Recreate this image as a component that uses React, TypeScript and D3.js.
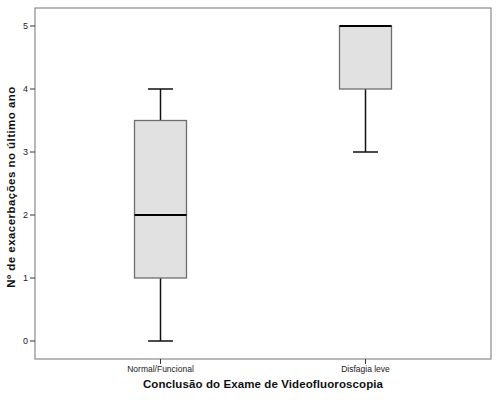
import React from "react";
import * as d3 from "d3";

const categories = ["Normal/Funcional", "Disfagia leve"];
const mins = [0, 3];
const q1s = [1, 4];
const medians = [2, 5];
const q3s = [3.5, 5];
const maxs = [4, 5];
const yTicks = [0, 1, 2, 3, 4, 5];

export default function App() {
  const W = 500, H = 400;
  const L = 35, R = 491, T = 8, B = 359;
  const y = d3.scaleLinear().domain([0, 5]).range([341, 26]);
  const x = d3.scalePoint<string>().domain(categories).range([160.5, 365.5]);
  const boxW = 52;
  const capW = 25;
  return (
    <svg width={W} height={H} style={{ position: "absolute", left: 0, top: 0, background: "#fff" }}>
      <rect x={L} y={T} width={R - L} height={B - T} fill="none" stroke="#8a8a8a" strokeWidth={1.2} />
      {yTicks.map((t) => (
        <g key={t}>
          <line x1={L - 5} x2={L} y1={y(t)} y2={y(t)} stroke="#333" strokeWidth={1} />
          <text x={L - 7} y={y(t) + 3} fontSize={9} fontFamily="Arial, Liberation Sans, sans-serif" textAnchor="end" fill="#222">{t}</text>
        </g>
      ))}
      {categories.map((c, i) => {
        const cx = x(c)!;
        return (
          <g key={c}>
            <line x1={cx} x2={cx} y1={B} y2={B + 5} stroke="#333" />
            <text x={cx} y={B + 13} fontSize={8.5} fontFamily="Arial, Liberation Sans, sans-serif" textAnchor="middle" fill="#222">{c}</text>
            <line x1={cx} x2={cx} y1={y(maxs[i])} y2={y(q3s[i])} stroke="#111" strokeWidth={1.5} />
            <line x1={cx} x2={cx} y1={y(q1s[i])} y2={y(mins[i])} stroke="#111" strokeWidth={1.5} />
            <line x1={cx - capW / 2} x2={cx + capW / 2} y1={y(maxs[i])} y2={y(maxs[i])} stroke="#111" strokeWidth={1.5} />
            <line x1={cx - capW / 2} x2={cx + capW / 2} y1={y(mins[i])} y2={y(mins[i])} stroke="#111" strokeWidth={1.5} />
            <rect x={cx - boxW / 2} y={y(q3s[i])} width={boxW} height={y(q1s[i]) - y(q3s[i])} fill="#e1e1e1" stroke="#6e6e6e" strokeWidth={1.3} />
            <line x1={cx - boxW / 2} x2={cx + boxW / 2} y1={y(medians[i])} y2={y(medians[i])} stroke="#000" strokeWidth={2.2} />
          </g>
        );
      })}
      <text x={263} y={388} fontSize={11.5} fontWeight="bold" fontFamily="Arial, Liberation Sans, sans-serif" textAnchor="middle" letterSpacing={0.1} fill="#111">Conclusão do Exame de Videofluoroscopia</text>
      <text transform="translate(15,187) rotate(-90)" fontSize={11.5} fontWeight="bold" fontFamily="Arial, Liberation Sans, sans-serif" textAnchor="middle" letterSpacing={0.45} fill="#111">Nº de exacerbações no último ano</text>
    </svg>
  );
}
